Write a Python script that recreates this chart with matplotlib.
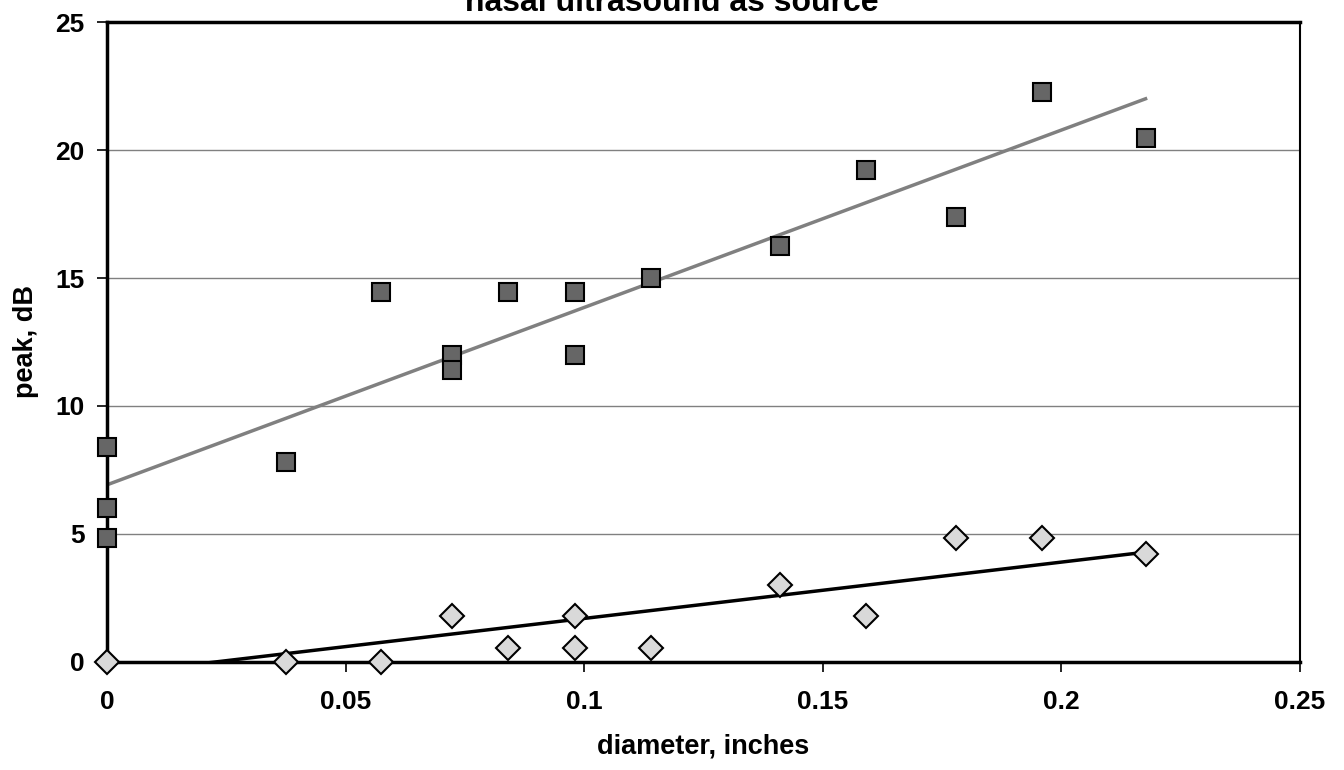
import numpy as np
import matplotlib.pyplot as plt

plt.rcParams['font.family'] = ['Liberation Sans', 'DejaVu Sans']
plt.rcParams['font.weight'] = 'bold'

# diameter (inches) and peak (dB) for the two series
sq_x = [0, 0, 0, 0.0375, 0.0574, 0.0723, 0.0723, 0.084, 0.098, 0.098,
        0.114, 0.141, 0.159, 0.178, 0.196, 0.2177]
sq_y = [8.4, 6.0, 4.84, 7.8, 14.45, 12.0, 11.4, 14.45, 14.45, 12.0,
        15.0, 16.25, 19.2, 17.4, 22.27, 20.47]

dm_x = [0, 0.0375, 0.0574, 0.0723, 0.084, 0.098, 0.098, 0.114, 0.141,
        0.159, 0.178, 0.196, 0.2177]
dm_y = [0, 0, 0, 1.8, 0.55, 1.8, 0.55, 0.55, 3.0, 1.8, 4.84, 4.84, 4.2]

# trendline of the diamond series (slope, intercept)
dm_trend = [22.0, -0.5]

title = "nasal ultrasound as source"
xlabel = "diameter, inches"
ylabel = "peak, dB"
xticks = [0, 0.05, 0.1, 0.15, 0.2, 0.25]
xtick_labels = ["0", "0.05", "0.1", "0.15", "0.2", "0.25"]
yticks = [0, 5, 10, 15, 20, 25]

fig = plt.figure(figsize=(13.44, 7.70), dpi=100)
ax = fig.add_axes([0.0796, 0.1403, 0.8874, 0.8311])

# grid lines
for yv in yticks[1:-1]:
    ax.axhline(yv, color='#808080', lw=1.0, zorder=1)

# linear trendlines
xs = np.array([0, max(sq_x)])
p1 = np.polyfit(sq_x, sq_y, 1)
ax.plot(xs, np.polyval(p1, xs), color='#808080', lw=2.5, zorder=2)
ax.plot(xs, np.polyval(dm_trend, xs), color='black', lw=2.5, zorder=2)

ax.plot(sq_x, sq_y, 's', ms=12.5, mfc='#666666', mec='black', mew=1.5,
        zorder=3, clip_on=False)
ax.plot(dm_x, dm_y, 'D', ms=12, mfc='#d9d9d9', mec='black', mew=1.5,
        zorder=3, clip_on=False)

ax.set_xlim(0, 0.25)
ax.set_ylim(0, 25)
ax.set_xticks(xticks)
ax.set_xticklabels(xtick_labels)
ax.set_yticks(yticks)
ax.tick_params(labelsize=19, direction='out', length=7, width=1.2)
ax.tick_params(axis='x', pad=13)
ax.tick_params(axis='y', pad=9)

for s in ['left', 'bottom', 'top']:
    ax.spines[s].set_linewidth(2.5)
ax.spines['right'].set_linewidth(1.5)

ax.set_xlabel(xlabel, fontsize=19.5, fontweight='bold', labelpad=14)
ax.set_ylabel(ylabel, fontsize=19.5, fontweight='bold', labelpad=12)
fig.text(0.5, 1 - 11 / 770, title, ha='center', va='baseline',
         fontsize=23, fontweight='bold')

fig.savefig('out.png', dpi=100)
